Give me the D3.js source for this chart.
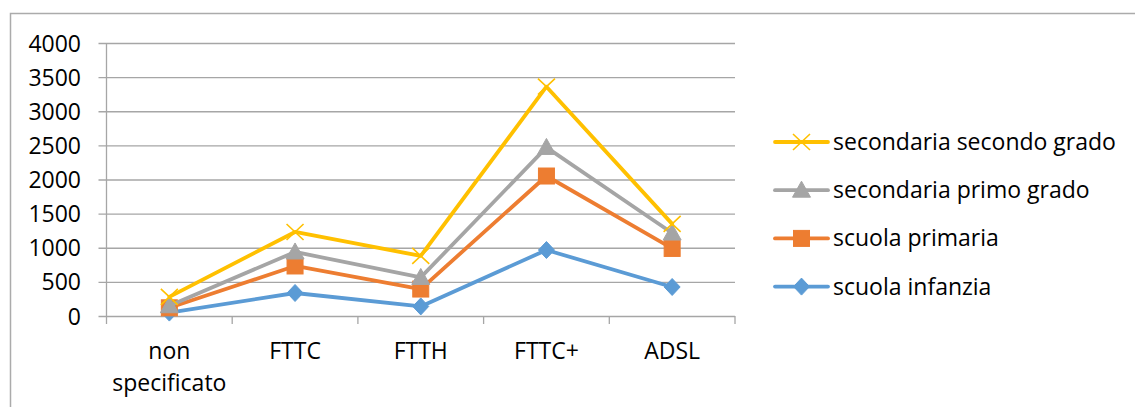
<!DOCTYPE html>
<html>
<head>
<meta charset="utf-8">
<script src="https://cdn.jsdelivr.net/npm/d3@7"></script>
<style>
  html, body { margin: 0; padding: 0; background: #fff; }
  svg { display: block; }
  text { font-family: "Open Sans", sans-serif; fill: #000; }
</style>
</head>
<body>
<svg id="chart" width="1135" height="407"></svg>
<script>
// Connection types per school level
const categories = ["non specificato", "FTTC", "FTTH", "FTTC+", "ADSL"];
const scuolaInfanzia = [50, 337, 140, 967, 425];
const scuolaPrimaria = [120, 733, 395, 2051, 990];
const secondariaPrimoGrado = [150, 938, 565, 2470, 1216];
const secondariaSecondoGrado = [280, 1231, 880, 3360, 1350];
const yTicks = [0, 500, 1000, 1500, 2000, 2500, 3000, 3500, 4000];

// drawing order: first series at the bottom
const series = [
  { name: "scuola infanzia", values: scuolaInfanzia, color: "#5B9BD5", marker: "diamond" },
  { name: "scuola primaria", values: scuolaPrimaria, color: "#ED7D31", marker: "square" },
  { name: "secondaria primo grado", values: secondariaPrimoGrado, color: "#A5A5A5", marker: "triangle" },
  { name: "secondaria secondo grado", values: secondariaSecondoGrado, color: "#FFC000", marker: "x" }
];

const svg = d3.select("#chart");
const gridColor = "#A6A6A6";
const fontSize = 23;

// outer chart frame
svg.append("rect")
  .attr("x", 10.5).attr("y", 13.5)
  .attr("width", 1300).attr("height", 600)
  .attr("fill", "none").attr("stroke", "#ABABAB").attr("stroke-width", 1.5);

const plot = { left: 106.5, right: 735, top: 43, bottom: 316 };

const x = d3.scaleBand().domain(categories).range([plot.left, plot.right]).paddingInner(0).paddingOuter(0);
const y = d3.scaleLinear().domain([0, 4000]).range([plot.bottom, plot.top]);
const cx = c => x(c) + x.bandwidth() / 2;

// horizontal gridlines with left tick marks
const yAxis = d3.axisLeft(y).tickValues(yTicks).tickSize(plot.right - plot.left + 8).tickPadding(0).tickFormat(d3.format("d"));
const gy = svg.append("g").attr("transform", `translate(${plot.right},0)`).call(yAxis);
gy.select(".domain").remove();
gy.selectAll(".tick line").attr("stroke", gridColor).attr("stroke-width", 1.3);
gy.selectAll(".tick text")
  .attr("x", null)
  .attr("transform", `translate(${-(plot.right - 81)},0)`)
  .attr("text-anchor", "end")
  .attr("dy", "0.35em")
  .style("font-size", fontSize + "px")
  .style("font-family", "'Open Sans', sans-serif")
  .attr("fill", "#000");

// vertical axis line
svg.append("line")
  .attr("x1", plot.left).attr("x2", plot.left)
  .attr("y1", plot.top).attr("y2", plot.bottom)
  .attr("stroke", gridColor).attr("stroke-width", 1.3);

// category axis: tick marks at band edges
const edges = categories.map(c => x(c)).concat([plot.right]);
svg.append("g").selectAll("line").data(edges).join("line")
  .attr("x1", d => d).attr("x2", d => d)
  .attr("y1", plot.bottom).attr("y2", plot.bottom + 8)
  .attr("stroke", gridColor).attr("stroke-width", 1.3);

// category labels (wrapped)
const xl = svg.append("g").selectAll("text").data(categories).join("text")
  .attr("x", d => cx(d))
  .attr("y", 359)
  .attr("text-anchor", "middle")
  .style("font-size", fontSize + "px");
xl.each(function (d) {
  const words = d.split(" ");
  const t = d3.select(this);
  words.forEach((w, i) => {
    t.append("tspan").attr("x", cx(d)).attr("dy", i === 0 ? 0 : 32).text(w);
  });
});

// marker shapes
function drawMarker(g, type, color, px, py) {
  if (type === "diamond") {
    g.append("path")
      .attr("d", `M${px},${py - 8.5}L${px + 8},${py}L${px},${py + 8.5}L${px - 8},${py}Z`)
      .attr("fill", color).attr("stroke", color).attr("stroke-width", 1);
  } else if (type === "square") {
    g.append("rect")
      .attr("x", px - 8).attr("y", py - 8).attr("width", 16).attr("height", 16)
      .attr("fill", color).attr("stroke", color).attr("stroke-width", 1);
  } else if (type === "triangle") {
    g.append("path")
      .attr("d", `M${px},${py - 9}L${px + 9},${py + 7}L${px - 9},${py + 7}Z`)
      .attr("fill", color).attr("stroke", color).attr("stroke-width", 1);
  } else if (type === "x") {
    g.append("path")
      .attr("d", `M${px - 8.5},${py - 8}L${px + 8.5},${py + 8}M${px - 8.5},${py + 8}L${px + 8.5},${py - 8}`)
      .attr("fill", "none").attr("stroke", color).attr("stroke-width", 1.6);
  }
}

const line = d3.line().x((d, i) => cx(categories[i])).y(d => y(d));

series.forEach(s => {
  const g = svg.append("g");
  g.append("path")
    .datum(s.values)
    .attr("d", line)
    .attr("fill", "none")
    .attr("stroke", s.color)
    .attr("stroke-width", 3.8)
    .attr("stroke-linejoin", "round")
    .attr("stroke-linecap", "round");
  s.values.forEach((v, i) => drawMarker(g, s.marker, s.color, cx(categories[i]), y(v)));
});

// legend (top entry is the last series)
const legendItems = series.slice().reverse();
const lg = svg.append("g");
legendItems.forEach((s, i) => {
  const ly = 142 + i * 48.2;
  const g = lg.append("g");
  g.append("line")
    .attr("x1", 775).attr("x2", 828)
    .attr("y1", ly).attr("y2", ly)
    .attr("stroke", s.color).attr("stroke-width", 3.8).attr("stroke-linecap", "round");
  drawMarker(g, s.marker, s.color, 801.5, ly);
  g.append("text")
    .attr("x", 833).attr("y", ly)
    .attr("dy", "0.35em")
    .style("font-size", fontSize + "px")
    .text(s.name);
});
</script>
</body>
</html>
